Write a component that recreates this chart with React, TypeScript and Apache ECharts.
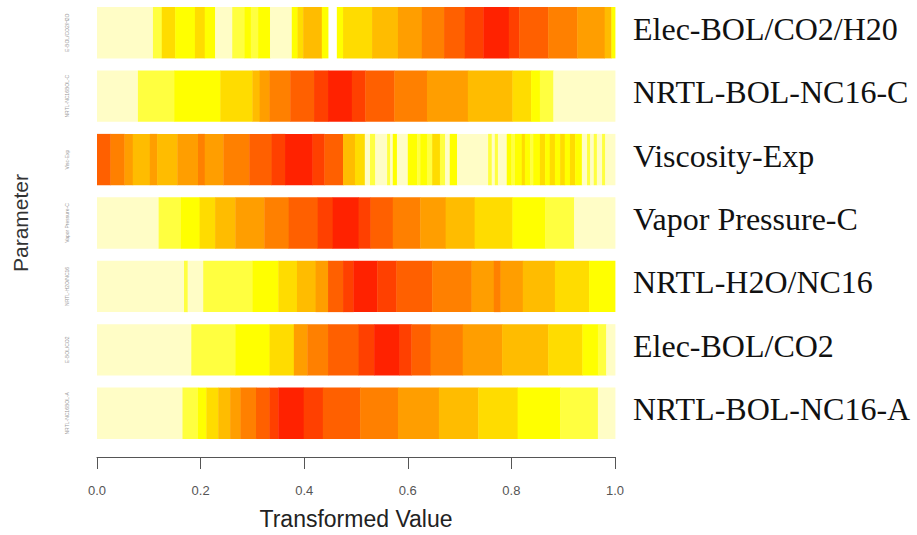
import React, { useEffect, useRef } from "react";
import * as echarts from "echarts";

// Parameter names, top to bottom
const PARAMETERS = [
  "Elec-BOL/CO2/H20",
  "NRTL-BOL-NC16-C",
  "Viscosity-Exp",
  "Vapor Pressure-C",
  "NRTL-H2O/NC16",
  "Elec-BOL/CO2",
  "NRTL-BOL-NC16-A",
];

// Short axis codes (tiny labels on the left)
const SHORT_CODES = [
  "E-BOL/CO2/H2O",
  "NRTL-NC16BOL-C",
  "Visc-Exp",
  "Vapor Pressure-C",
  "NRTL-H2O/NC16",
  "E-BOL/CO2",
  "NRTL-NC16BOL-A",
];

// Density level colours (0 = lowest density, 9 = highest)
const LEVEL_COLORS = [
  "#FFFDC6",
  "#FFFF40",
  "#FFFF00",
  "#FFDC00",
  "#FFBC00",
  "#FF9E00",
  "#FF8000",
  "#FF6000",
  "#FF4000",
  "#FF2200",
];

// Segments: [start, end, density level]
const ELEC_BOL_CO2_H20: number[][] = [
  [0, 0.108, 0], [0.108, 0.125, 1], [0.125, 0.151, 3], [0.151, 0.189, 2],
  [0.189, 0.208, 3], [0.208, 0.228, 2], [0.228, 0.261, 0], [0.261, 0.285, 1],
  [0.285, 0.297, 2], [0.297, 0.311, 1], [0.311, 0.334, 2], [0.334, 0.376, 0],
  [0.376, 0.387, 2], [0.387, 0.398, 3], [0.398, 0.434, 4], [0.434, 0.446, 2],
  [0.463, 0.475, 2], [0.475, 0.531, 3], [0.531, 0.581, 4], [0.581, 0.627, 5],
  [0.627, 0.670, 6], [0.670, 0.710, 7], [0.710, 0.746, 8], [0.746, 0.795, 9],
  [0.795, 0.815, 8], [0.815, 0.871, 7], [0.871, 0.927, 6], [0.927, 0.980, 5],
  [0.980, 0.993, 4], [0.993, 1.0, 2],
];

const NRTL_BOL_NC16_C: number[][] = [
  [0, 0.079, 0], [0.079, 0.149, 1], [0.149, 0.238, 2], [0.238, 0.300, 3],
  [0.300, 0.314, 4], [0.314, 0.333, 5], [0.333, 0.373, 6], [0.373, 0.419, 7],
  [0.419, 0.446, 8], [0.446, 0.492, 9], [0.492, 0.518, 8], [0.518, 0.574, 7],
  [0.574, 0.637, 6], [0.637, 0.716, 5], [0.716, 0.802, 4], [0.802, 0.838, 3],
  [0.838, 0.855, 2], [0.855, 0.881, 1], [0.881, 1.0, 0],
];

const VISCOSITY_EXP: number[][] = [
  [0, 0.026, 7], [0.026, 0.053, 6], [0.053, 0.069, 5], [0.069, 0.102, 4],
  [0.102, 0.116, 5], [0.116, 0.155, 4], [0.155, 0.195, 5], [0.195, 0.208, 6],
  [0.208, 0.244, 5], [0.244, 0.294, 6], [0.294, 0.337, 7], [0.337, 0.363, 8],
  [0.363, 0.416, 9], [0.416, 0.439, 8], [0.439, 0.475, 7], [0.475, 0.498, 4],
  [0.498, 0.517, 3], [0.517, 0.527, 0], [0.527, 0.537, 1], [0.537, 0.560, 0],
  [0.560, 0.566, 1], [0.566, 0.571, 0], [0.571, 0.579, 2], [0.579, 0.600, 0],
  [0.600, 0.618, 2], [0.618, 0.624, 1], [0.624, 0.637, 2], [0.637, 0.647, 1],
  [0.647, 0.662, 3], [0.662, 0.672, 1], [0.672, 0.681, 0], [0.681, 0.695, 2],
  [0.695, 0.755, 0], [0.755, 0.762, 1], [0.762, 0.768, 0], [0.768, 0.774, 1],
  [0.774, 0.791, 0], [0.791, 0.800, 2], [0.800, 0.807, 1], [0.807, 0.820, 2],
  [0.820, 0.826, 3], [0.826, 0.836, 2], [0.836, 0.842, 1], [0.842, 0.855, 2],
  [0.855, 0.865, 3], [0.865, 0.874, 2], [0.874, 0.884, 3], [0.884, 0.894, 2],
  [0.894, 0.903, 3], [0.903, 0.913, 2], [0.913, 0.923, 3], [0.923, 0.936, 2],
  [0.936, 0.946, 0], [0.946, 0.952, 1], [0.952, 0.959, 0], [0.959, 0.965, 1],
  [0.965, 0.975, 0], [0.975, 0.981, 1], [0.981, 1.0, 0],
];

const VAPOR_PRESSURE_C: number[][] = [
  [0, 0.119, 0], [0.119, 0.162, 1], [0.162, 0.198, 2], [0.198, 0.228, 3],
  [0.228, 0.267, 4], [0.267, 0.323, 5], [0.323, 0.370, 6], [0.370, 0.426, 7],
  [0.426, 0.455, 8], [0.455, 0.505, 9], [0.505, 0.528, 8], [0.528, 0.571, 7],
  [0.571, 0.624, 6], [0.624, 0.673, 5], [0.673, 0.729, 4], [0.729, 0.802, 3],
  [0.802, 0.865, 2], [0.865, 0.921, 1], [0.921, 1.0, 0],
];

const NRTL_H2O_NC16: number[][] = [
  [0, 0.168, 0], [0.168, 0.175, 1], [0.175, 0.205, 0], [0.205, 0.300, 1],
  [0.300, 0.350, 2], [0.350, 0.386, 3], [0.386, 0.422, 4], [0.422, 0.446, 5],
  [0.446, 0.475, 7], [0.475, 0.495, 8], [0.495, 0.541, 9], [0.541, 0.578, 8],
  [0.578, 0.647, 7], [0.647, 0.723, 6], [0.723, 0.766, 5], [0.766, 0.779, 6],
  [0.779, 0.822, 5], [0.822, 0.884, 4], [0.884, 0.950, 3], [0.950, 1.0, 2],
];

const ELEC_BOL_CO2: number[][] = [
  [0, 0.182, 0], [0.182, 0.267, 1], [0.267, 0.333, 2], [0.333, 0.380, 3],
  [0.380, 0.406, 5], [0.406, 0.446, 6], [0.446, 0.505, 7], [0.505, 0.535, 8],
  [0.535, 0.584, 9], [0.584, 0.607, 8], [0.607, 0.644, 7], [0.644, 0.706, 6],
  [0.706, 0.782, 5], [0.782, 0.871, 4], [0.871, 0.937, 3], [0.937, 0.967, 2],
  [0.967, 0.983, 1], [0.983, 1.0, 0],
];

const NRTL_BOL_NC16_A: number[][] = [
  [0, 0.165, 0], [0.165, 0.195, 1], [0.195, 0.211, 2], [0.211, 0.234, 3],
  [0.234, 0.257, 4], [0.257, 0.277, 5], [0.277, 0.307, 6], [0.307, 0.333, 7],
  [0.333, 0.350, 8], [0.350, 0.399, 9], [0.399, 0.436, 8], [0.436, 0.508, 7],
  [0.508, 0.581, 6], [0.581, 0.660, 5], [0.660, 0.736, 4], [0.736, 0.812, 3],
  [0.812, 0.894, 2], [0.894, 0.967, 1], [0.967, 1.0, 0],
];

const STRIPS = [
  ELEC_BOL_CO2_H20,
  NRTL_BOL_NC16_C,
  VISCOSITY_EXP,
  VAPOR_PRESSURE_C,
  NRTL_H2O_NC16,
  ELEC_BOL_CO2,
  NRTL_BOL_NC16_A,
];

export default function App() {
  const ref = useRef<HTMLDivElement>(null);

  useEffect(() => {
    if (!ref.current) return;
    const chart = echarts.init(ref.current, undefined, { renderer: "svg" });

    const data: number[][] = [];
    STRIPS.forEach((strip, i) => {
      strip.forEach(([s, e, lvl]) => data.push([s, e, i, lvl]));
    });

    const option: any = {
      animation: false,
      backgroundColor: "#ffffff",
      grid: { left: 97, right: 302, top: 1, bottom: 89, containLabel: false },
      visualMap: {
        type: "piecewise",
        show: false,
        dimension: 3,
        seriesIndex: 0,
        pieces: LEVEL_COLORS.map((c, i) => ({ value: i, color: c })),
      },
      xAxis: {
        type: "value",
        min: 0,
        max: 1,
        interval: 0.2,
        offset: 12,
        name: "Transformed Value",
        nameLocation: "middle",
        nameGap: 50,
        nameTextStyle: { fontFamily: "Liberation Sans, Arial, sans-serif", fontSize: 23, color: "#222" },
        axisLine: { show: true, lineStyle: { color: "#555", width: 1 } },
        axisTick: { show: true, length: 12, lineStyle: { color: "#555" } },
        axisLabel: {
          margin: 27,
          fontFamily: "Liberation Sans, Arial, sans-serif",
          fontSize: 13,
          color: "#555",
          formatter: (v: number) => v.toFixed(1),
        },
        splitLine: { show: false },
      },
      yAxis: [
        {
          type: "category",
          data: SHORT_CODES,
          inverse: true,
          position: "left",
          name: "Parameter",
          nameLocation: "middle",
          nameGap: 66,
          nameRotate: 90,
          nameTextStyle: { fontFamily: "Liberation Sans, Arial, sans-serif", fontSize: 21, color: "#333" },
          axisLine: { show: false },
          axisTick: { show: false },
          axisLabel: {
            rotate: 90,
            margin: 28,
            fontSize: 5,
            color: "#999",
            fontFamily: "Liberation Sans, Arial, sans-serif",
          },
        },
        {
          type: "category",
          data: PARAMETERS,
          inverse: true,
          position: "right",
          axisLine: { show: false },
          axisTick: { show: false },
          axisLabel: {
            margin: 18,
            formatter: (v: string) => "{p|" + v + "}",
            rich: {
              p: {
                fontSize: 32,
                color: "#111",
                fontFamily: "Liberation Serif, Times New Roman, serif",
                padding: [0, 0, 8, 0],
              },
            },
          },
        },
      ],
      series: [
        {
          type: "custom",
          xAxisIndex: 0,
          yAxisIndex: 0,
          encode: { x: [0, 1], y: 2 },
          renderItem: (params: any, api: any) => {
            const s = api.value(0);
            const e = api.value(1);
            const cat = api.value(2);
            const p0 = api.coord([s, cat]);
            const p1 = api.coord([e, cat]);
            const h = api.size([0, 1])[1] * 0.81;
            return {
              type: "rect",
              shape: { x: p0[0], y: p0[1] - h / 2, width: p1[0] - p0[0] + 0.4, height: h },
              style: { fill: api.visual("color") },
            };
          },
          data,
        },
      ],
    };

    chart.setOption(option);
    return () => chart.dispose();
  }, []);

  return (
    <div
      ref={ref}
      style={{ position: "absolute", left: 0, top: 0, width: 917, height: 535 }}
    />
  );
}
